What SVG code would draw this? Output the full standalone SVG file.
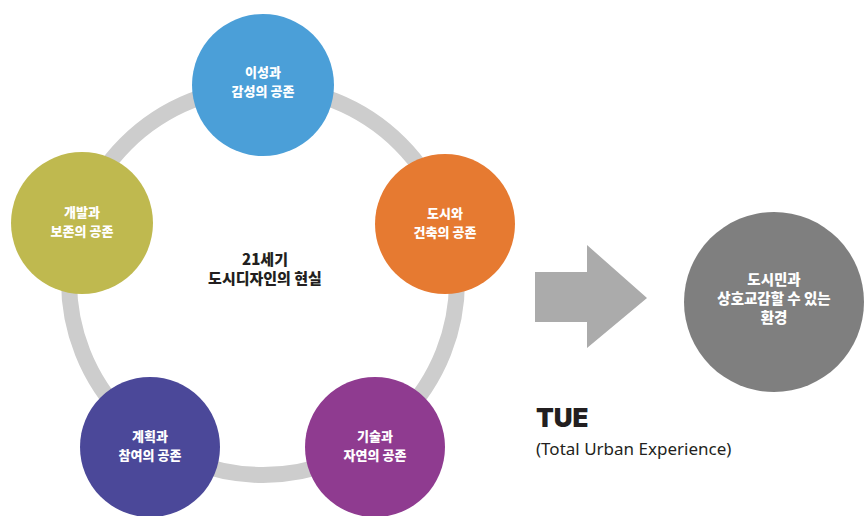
<svg xmlns="http://www.w3.org/2000/svg" width="865" height="516" viewBox="0 0 865 516">
<style>
.lbl{font-family:"Noto Sans CJK KR","Noto Sans",sans-serif;font-weight:900;fill:#fff;text-anchor:middle;font-size:13px}
.ctr{font-family:"Noto Sans CJK KR","Noto Sans",sans-serif;font-weight:900;fill:#231f20;text-anchor:middle;font-size:15px}
.big{font-family:"Noto Sans CJK KR","Noto Sans",sans-serif;font-weight:900;fill:#fff;text-anchor:middle;font-size:14.5px}
</style>
<rect width="865" height="516" fill="#fff"/>
<g id="connectors">
<circle cx="263" cy="281" r="194" fill="none" stroke="#cdcdcd" stroke-width="16"/>
<polygon points="535,272 587,272 587,245 647,298 587,348 587,322 535,322" fill="#ababab"/>
</g>
<g id="center">
<text class="ctr" x="265" y="265">21세기</text>
<text class="ctr" x="265" y="284">도시디자인의 현실</text>
</g>
<g id="node-top">
<circle cx="263" cy="85" r="71" fill="#4b9fd8"/>
<text class="lbl" x="263" y="76.5">이성과</text>
<text class="lbl" x="263" y="95.5">감성의 공존</text>
</g>
<g id="node-right">
<circle cx="445" cy="224" r="70" fill="#e67a31"/>
<text class="lbl" x="445" y="217.5">도시와</text>
<text class="lbl" x="445" y="236.5">건축의 공존</text>
</g>
<g id="node-left">
<circle cx="82" cy="223" r="71" fill="#bfb94f"/>
<text class="lbl" x="82" y="216.5">개발과</text>
<text class="lbl" x="82" y="235.5">보존의 공존</text>
</g>
<g id="node-bottom-left">
<circle cx="150" cy="447" r="70" fill="#4b4899"/>
<text class="lbl" x="150" y="440.5">계획과</text>
<text class="lbl" x="150" y="459.5">참여의 공존</text>
</g>
<g id="node-bottom-right">
<circle cx="375" cy="447" r="70" fill="#8f3b90"/>
<text class="lbl" x="375" y="440.5">기술과</text>
<text class="lbl" x="375" y="459.5">자연의 공존</text>
</g>
<g id="node-result">
<circle cx="774" cy="302" r="90" fill="#7f7f7f"/>
<text class="big" x="774" y="285">도시민과</text>
<text class="big" x="774" y="304">상호교감할 수 있는</text>
<text class="big" x="774" y="323">환경</text>
</g>
<g id="tue">
<text x="536" y="427" font-family="Inter,'Liberation Sans',sans-serif" font-weight="900" font-size="26" fill="#231f20">TUE</text>
<text x="536" y="455" font-family="'Noto Sans','Liberation Sans',sans-serif" font-size="17" fill="#231f20">(Total Urban Experience)</text>
</g>
</svg>
